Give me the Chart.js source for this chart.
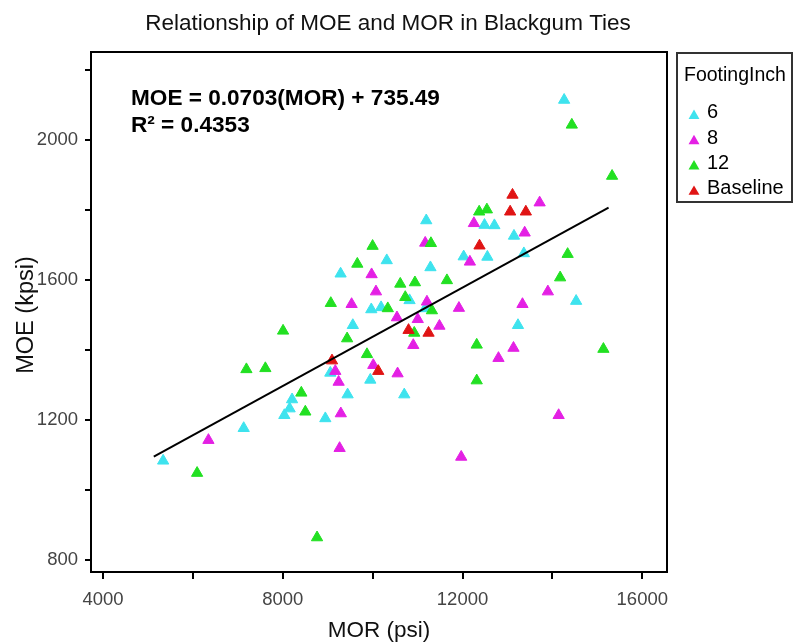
<!DOCTYPE html>
<html><head><meta charset="utf-8">
<script src="https://cdn.jsdelivr.net/npm/chart.js@4/dist/chart.umd.min.js"></script>
<style>html,body{margin:0;padding:0;background:#fff}#wrap{width:794px;height:644px}</style>
</head><body><div id="wrap"><canvas id="c" width="794" height="644"></canvas></div>
<script>
// ---- data ----
const chartTitle = 'Relationship of MOE and MOR in Blackgum Ties';
const xTitle = 'MOR (psi)';
const yTitle = 'MOE (kpsi)';
const legendTitle = 'FootingInch';
const seriesNames = ['6', '8', '12', 'Baseline'];
const seriesColors = ['#3EE3EE', '#E420E4', '#22E022', '#E01414'];

const mor6 = [14261, 11193, 12489, 12709, 13145, 13365, 12026, 12553, 10314, 11286, 9287, 10821, 9970, 10188, 11170, 14528, 9559, 13234, 9058, 9948, 9443, 10704, 8207, 8153, 8035, 8947, 7131, 5338];
const moe6 = [2114, 1770, 1757, 1756, 1726, 1676, 1667, 1666, 1656, 1636, 1618, 1542, 1516, 1522, 1519, 1540, 1471, 1471, 1335, 1315, 1273, 1273, 1259, 1233, 1214, 1205, 1177, 1084];

const mor8 = [13716, 12253, 13383, 11170, 12164, 9977, 10074, 13899, 9532, 11208, 11920, 13334, 10541, 11004, 11486, 10904, 13134, 12800, 10014, 10555, 9169, 9243, 9292, 6346, 9265, 14139, 11971];
const moe8 = [1821, 1762, 1735, 1706, 1652, 1616, 1567, 1567, 1531, 1538, 1520, 1531, 1493, 1488, 1469, 1414, 1406, 1377, 1357, 1333, 1340, 1309, 1219, 1143, 1120, 1214, 1095];

const mor12 = [14432, 15328, 12371, 12542, 11297, 9999, 14339, 9659, 10615, 10941, 11653, 14172, 9069, 10726, 10337, 11319, 8007, 9432, 10926, 12316, 15135, 9874, 7191, 7613, 12316, 8413, 8502, 6094, 8763];
const moe12 = [2043, 1897, 1795, 1801, 1705, 1697, 1674, 1646, 1589, 1593, 1599, 1607, 1534, 1551, 1519, 1513, 1455, 1433, 1449, 1415, 1403, 1388, 1345, 1348, 1313, 1278, 1224, 1049, 865];

const morBase = [13112, 13060, 13409, 12378, 9096, 10125, 10799, 11244];
const moeBase = [1843, 1795, 1795, 1698, 1370, 1340, 1457, 1449];

// fitted line end points and its label
const fitMOR = [5130, 15250];
const fitMOE = [1096, 1807];
const eqText = 'MOE = 0.0703(MOR) + 735.49';
const r2Text = 'R\u00B2 = 0.4353';

const xTickValues = [4000, 6000, 8000, 10000, 12000, 14000, 16000];
const xTickLabels = ['4000', '', '8000', '', '12000', '', '16000'];
const yTickValues = [800, 1000, 1200, 1400, 1600, 1800, 2000, 2200];
const yTickLabels = ['800', '', '1200', '', '1600', '', '2000', ''];

// ---- build ----
const FONT = '"Liberation Sans", Arial, Helvetica, sans-serif';
const pts = (xs, ys) => xs.map((v, i) => ({x: v, y: ys[i]}));
const seriesData = [pts(mor6, moe6), pts(mor8, moe8), pts(mor12, moe12), pts(morBase, moeBase)];

const datasets = seriesNames.map((n, i) => ({
  type: 'scatter', label: n, data: seriesData[i],
  pointStyle: 'triangle', pointRadius: 6.5, pointHoverRadius: 6.5,
  backgroundColor: seriesColors[i], borderColor: seriesColors[i], borderWidth: 1,
  order: 4 - i
}));
datasets.push({
  type: 'line', label: 'fit', data: pts(fitMOR, fitMOE),
  borderColor: '#000', borderWidth: 2, pointRadius: 0, fill: false, order: 0
});

function tri(ctx, x, y, r) {
  ctx.beginPath();
  let a = 0;
  ctx.moveTo(x + Math.sin(a) * r, y - Math.cos(a) * r);
  a += 2 * Math.PI / 3;
  ctx.lineTo(x + Math.sin(a) * r, y - Math.cos(a) * r);
  a += 2 * Math.PI / 3;
  ctx.lineTo(x + Math.sin(a) * r, y - Math.cos(a) * r);
  ctx.closePath();
  ctx.fill();
}

const decor = {
  id: 'decor',
  afterDraw(chart) {
    const ctx = chart.ctx, ca = chart.chartArea;
    ctx.save();
    // frame
    ctx.strokeStyle = '#000'; ctx.lineWidth = 2;
    ctx.strokeRect(ca.left, ca.top, ca.right - ca.left, ca.bottom - ca.top);
    // title
    ctx.fillStyle = '#111';
    ctx.font = '22.5px ' + FONT;
    ctx.textAlign = 'center'; ctx.textBaseline = 'alphabetic';
    ctx.fillText(chartTitle, 388, 30);
    // axis titles
    ctx.font = '22.5px ' + FONT;
    ctx.fillText(xTitle, (ca.left + ca.right) / 2, 637);
    ctx.save();
    ctx.translate(33, 315);
    ctx.rotate(-Math.PI / 2);
    ctx.font = '23.5px ' + FONT;
    ctx.fillText(yTitle, 0, 0);
    ctx.restore();
    // equation
    ctx.fillStyle = '#000';
    ctx.font = 'bold 22.6px ' + FONT;
    ctx.textAlign = 'left';
    ctx.fillText(eqText, 131, 105);
    ctx.fillText(r2Text, 131, 132);
    // legend
    ctx.strokeStyle = '#333'; ctx.lineWidth = 2;
    ctx.strokeRect(677, 53, 115, 149);
    ctx.fillStyle = '#000';
    ctx.font = '19.5px ' + FONT;
    ctx.fillText(legendTitle, 684, 81);
    ctx.font = '20px ' + FONT;
    const base0 = 118.3, step = 25.3;
    seriesNames.forEach((n, i) => {
      const by = base0 + i * step;
      ctx.fillStyle = seriesColors[i];
      tri(ctx, 694, by - 2.5, 6.3);
      ctx.fillStyle = '#000';
      ctx.fillText(n, 707, by);
    });
    ctx.restore();
  }
};

new Chart(document.getElementById('c'), {
  data: {datasets},
  options: {
    responsive: false, animation: false,
    layout: {padding: {left: 0, top: 52, right: 127, bottom: 0}},
    plugins: {legend: {display: false}, title: {display: false}, tooltip: {enabled: false}},
    scales: {
      x: {
        type: 'linear', min: 3733, max: 16550,
        afterFit(s) { s.height = 72; },
        afterBuildTicks(s) { s.ticks = xTickValues.map(v => ({value: v})); },
        ticks: {callback: (v, i) => xTickLabels[i], color: '#444', font: {family: FONT, size: 18.5}, padding: 10, maxRotation: 0, autoSkip: false},
        grid: {display: true, drawOnChartArea: false, drawTicks: true, tickLength: 7, color: '#000', lineWidth: 2},
        border: {display: true, color: '#000', width: 2}
      },
      y: {
        type: 'linear', min: 766.6, max: 2251,
        afterFit(s) { s.width = 91; },
        afterBuildTicks(s) { s.ticks = yTickValues.map(v => ({value: v})); },
        ticks: {callback: (v, i) => yTickLabels[i], color: '#444', font: {family: FONT, size: 18.5}, padding: 7, autoSkip: false},
        grid: {display: true, drawOnChartArea: false, drawTicks: true, tickLength: 6, color: '#000', lineWidth: 2},
        border: {display: true, color: '#000', width: 2}
      }
    }
  },
  plugins: [decor]
});
</script></body></html>
